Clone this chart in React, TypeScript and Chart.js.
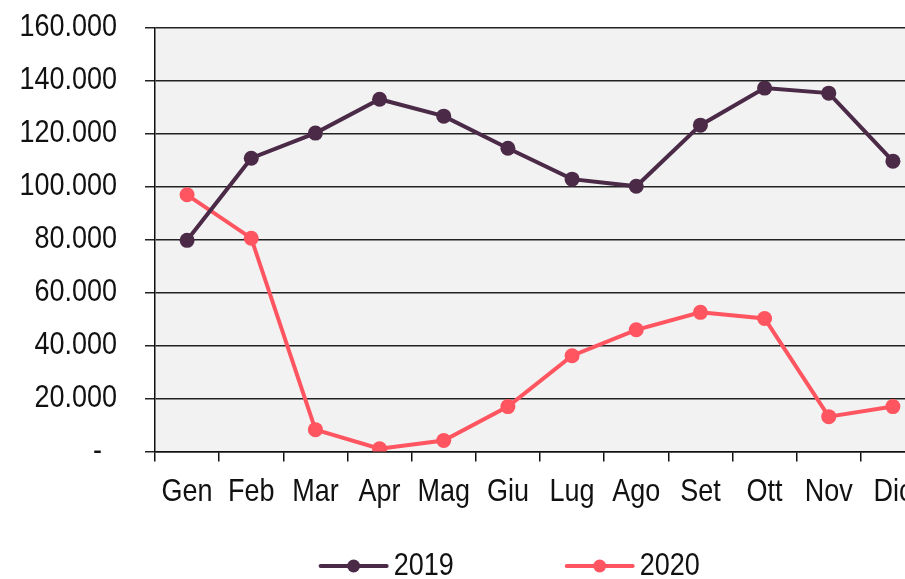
import React, { useEffect, useRef } from "react";
import { Chart, registerables } from "chart.js";

Chart.register(...registerables);

const months = ["Gen", "Feb", "Mar", "Apr", "Mag", "Giu", "Lug", "Ago", "Set", "Ott", "Nov", "Dic"];
const values2019 = [79800, 110800, 120300, 133100, 126700, 114600, 102900, 100200, 123300, 137300, 135400, 109700];
const values2020 = [97000, 80600, 8300, 1100, 4200, 17000, 36200, 46000, 52600, 50300, 13200, 17000];
const yTicks = [0, 20000, 40000, 60000, 80000, 100000, 120000, 140000, 160000];

const COLOR_2019 = "#4b2a48";
const COLOR_2020 = "#ff5560";
const FONT = "'Liberation Sans', Arial, sans-serif";
const TEXT_STRETCH = 1.14;

function fmt(v: number): string {
  if (v === 0) return "-  ";
  return String(v).replace(/\B(?=(\d{3})+(?!\d))/g, ".");
}

const stretchPlugin = {
  id: "textStretch",
  beforeDraw(chart: any) {
    const ctx = chart.ctx;
    const orig = ctx.fillText;
    chart.$origFillText = orig;
    ctx.fillText = function (text: string, x: number, y: number, maxW?: number) {
      this.save();
      this.translate(x, y);
      this.scale(1, TEXT_STRETCH);
      if (maxW !== undefined) orig.call(this, text, 0, 0, maxW);
      else orig.call(this, text, 0, 0);
      this.restore();
    };
  },
  afterDraw(chart: any) {
    if (chart.$origFillText) {
      chart.ctx.fillText = chart.$origFillText;
      delete chart.$origFillText;
    }
  },
};

const bgPlugin = {
  id: "plotBg",
  beforeDraw(chart: any) {
    const { ctx, chartArea } = chart;
    ctx.save();
    ctx.fillStyle = "#f2f2f2";
    ctx.fillRect(chartArea.left, chartArea.top, chartArea.right - chartArea.left, chartArea.bottom - chartArea.top);
    ctx.restore();
  },
};

const legendPlugin = {
  id: "customLegend",
  afterDatasetsDraw(chart: any) {
    const { ctx, chartArea } = chart;
    ctx.save();
    ctx.font = `27px ${FONT}`;
    const symW = 70;
    const gap = 5;
    const spacing = 111;
    const items = chart.data.datasets.map((d: any) => ({
      label: d.label,
      color: d.borderColor,
      tw: ctx.measureText(d.label).width,
    }));
    let total = 0;
    items.forEach((it: any, i: number) => {
      total += symW + gap + it.tw + (i < items.length - 1 ? spacing : 0);
    });
    const cx = chartArea.left + (chartArea.right - chartArea.left) * 0.46;
    let x = cx - total / 2;
    const y = 566;
    items.forEach((it: any) => {
      ctx.strokeStyle = it.color;
      ctx.lineWidth = 4;
      ctx.lineCap = "round";
      ctx.beginPath();
      ctx.moveTo(x + 2, y);
      ctx.lineTo(x + symW - 2, y);
      ctx.stroke();
      ctx.fillStyle = it.color;
      ctx.beginPath();
      ctx.arc(x + symW / 2, y, 6.5, 0, Math.PI * 2);
      ctx.fill();
      ctx.fillStyle = "#111";
      ctx.textBaseline = "middle";
      ctx.textAlign = "left";
      ctx.fillText(it.label, x + symW + gap, y + 1);
      x += symW + gap + it.tw + spacing;
    });
    ctx.restore();
  },
};

export default function App() {
  const ref = useRef<HTMLCanvasElement | null>(null);

  useEffect(() => {
    if (!ref.current) return;
    const chart = new Chart(ref.current, {
      type: "line",
      data: {
        labels: months,
        datasets: [
          {
            label: "2019",
            data: values2019,
            borderColor: COLOR_2019,
            backgroundColor: COLOR_2019,
            borderWidth: 4,
            pointRadius: 7.5,
            pointHoverRadius: 7.5,
            pointBorderWidth: 0,
            tension: 0,
          },
          {
            label: "2020",
            data: values2020,
            borderColor: COLOR_2020,
            backgroundColor: COLOR_2020,
            borderWidth: 4,
            pointRadius: 7.5,
            pointHoverRadius: 7.5,
            pointBorderWidth: 0,
            tension: 0,
          },
        ],
      },
      options: {
        responsive: false,
        animation: false,
        layout: { autoPadding: false, padding: { top: 28, bottom: 55, left: 20, right: 5 } },
        plugins: {
          legend: { display: false },
          tooltip: { enabled: false },
        },
        scales: {
          x: {
            type: "category",
            offset: true,
            grid: {
              offset: true,
              drawOnChartArea: false,
              drawTicks: true,
              tickLength: 10,
              color: "#111",
              lineWidth: 1.5,
            },
            border: { display: true, color: "#111", width: 1.5 },
            ticks: {
              color: "#111",
              font: { family: FONT, size: 27 },
              padding: 15,
              maxRotation: 0,
              autoSkip: false,
            },
          },
          y: {
            min: 0,
            max: 160000,
            afterBuildTicks(scale: any) {
              scale.ticks = yTicks.map((v) => ({ value: v }));
            },
            afterFit(scale: any) {
              scale.width = 135;
              scale.paddingTop = 0;
              scale.paddingBottom = 0;
            },
            grid: {
              color: "#222",
              lineWidth: 1.5,
              tickLength: 10,
            },
            border: { display: true, color: "#111", width: 1.5 },
            ticks: {
              color: "#111",
              font: { family: FONT, size: 27 },
              padding: 28,
              callback: (v: any) => fmt(Number(v)),
            },
          },
        },
      },
      plugins: [stretchPlugin, bgPlugin, legendPlugin],
    });
    return () => chart.destroy();
  }, []);

  return (
    <div style={{ position: "fixed", left: 0, top: 0, width: 905, height: 579, overflow: "hidden", background: "#fff" }}>
      <canvas ref={ref} width={930} height={579} style={{ display: "block", width: 930, height: 579 }} />
    </div>
  );
}
